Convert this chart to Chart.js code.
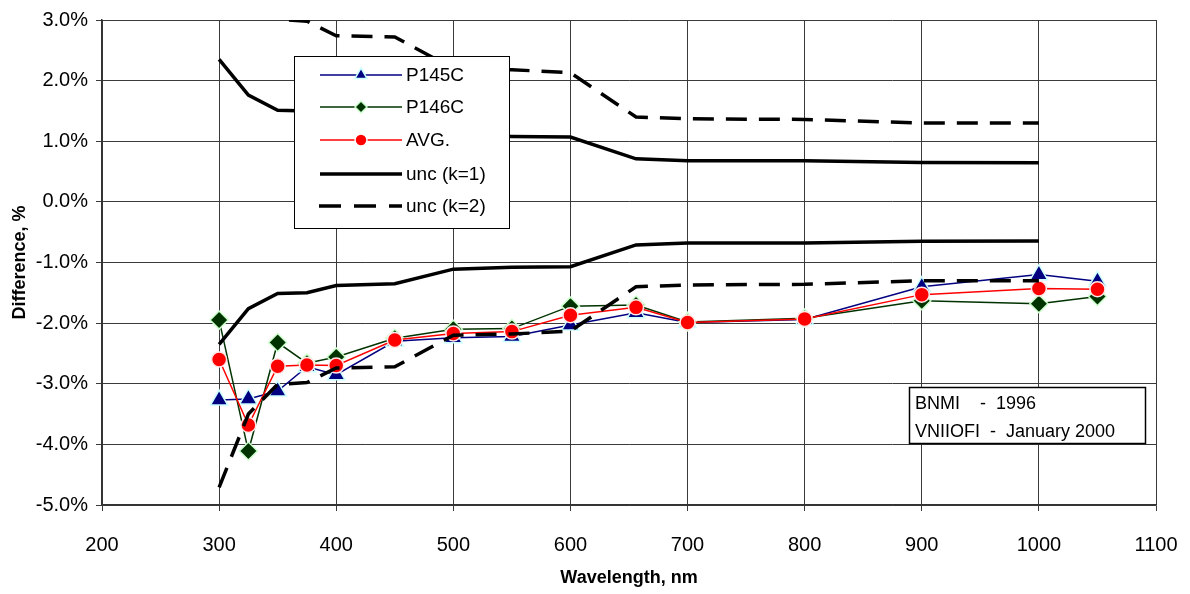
<!DOCTYPE html>
<html>
<head>
<meta charset="utf-8">
<script src="https://cdn.jsdelivr.net/npm/chart.js@4.4.1/dist/chart.umd.min.js"></script>
<style>
  html, body { margin: 0; padding: 0; background: #fff; }
  #wrap { width: 1190px; height: 594px; }
</style>
</head>
<body>
<div id="wrap"><canvas id="diffChart" width="1190" height="594"></canvas></div>
<script>
// wavelengths in nm, differences in %
var wavelengths = [300, 325, 350, 375, 400, 450, 500, 550, 600, 656, 700, 800, 900, 1000, 1050];
var p145c = [-3.27, -3.25, -3.12, -2.72, -2.85, -2.30, -2.24, -2.22, -2.03, -1.83, -1.99, -1.94, -1.40, -1.20, -1.31];
var p146c = [-1.95, -4.11, -2.32, -2.66, -2.56, -2.25, -2.10, -2.09, -1.72, -1.70, -1.98, -1.92, -1.63, -1.68, -1.56];
var avg   = [-2.60, -3.68, -2.71, -2.69, -2.70, -2.28, -2.17, -2.14, -1.87, -1.74, -1.99, -1.93, -1.53, -1.43, -1.44];

// uncertainty bands (plotted as + and -)
var uncWavelengths = [300, 325, 350, 375, 400, 450, 500, 550, 600, 656, 700, 800, 900, 1000];
var uncK1 = [2.35, 1.76, 1.51, 1.50, 1.38, 1.35, 1.11, 1.08, 1.07, 0.71, 0.68, 0.68, 0.65, 0.645];
var uncK2 = [4.71, 3.50, 3.01, 2.98, 2.74, 2.72, 2.20, 2.18, 2.13, 1.40, 1.37, 1.36, 1.30, 1.30];

var xTicks = [200, 300, 400, 500, 600, 700, 800, 900, 1000, 1100];
var yTicks = [-5, -4, -3, -2, -1, 0, 1, 2, 3];

var noteLines = ["BNMI    -  1996", "VNIIOFI  -  January 2000"];

var FONT = "'Liberation Sans', Arial, sans-serif";

function pairs(xs, ys, sign) {
    var out = [];
    for (var i = 0; i < xs.length; i++) {
        out.push({ x: xs[i], y: ys[i] * (sign || 1) });
    }
    return out;
}

function drawMarker(ctx, style, x, y, r, fill, stroke) {
    ctx.save();
    ctx.beginPath();
    if (style == 'triangle') {
        ctx.moveTo(x, y - r);
        ctx.lineTo(x + r * 0.87, y + r * 0.5);
        ctx.lineTo(x - r * 0.87, y + r * 0.5);
        ctx.closePath();
    } else if (style == 'rectRot') {
        ctx.moveTo(x, y - r);
        ctx.lineTo(x + r, y);
        ctx.lineTo(x, y + r);
        ctx.lineTo(x - r, y);
        ctx.closePath();
    } else {
        ctx.arc(x, y, r, 0, Math.PI * 2);
    }
    ctx.fillStyle = fill;
    ctx.fill();
    ctx.lineWidth = 1.5;
    ctx.strokeStyle = stroke;
    ctx.stroke();
    ctx.restore();
}

var legendItems = [
    { text: "P145C", color: "#000080", width: 1.5, dash: [], marker: 'triangle', r: 7, fill: "#000080", stroke: "#ccffff" },
    { text: "P146C", color: "#003300", width: 1.5, dash: [], marker: 'rectRot', r: 6, fill: "#003300", stroke: "#ccffcc" },
    { text: "AVG.", color: "#ff0000", width: 1.5, dash: [], marker: 'circle', r: 6, fill: "#ff0000", stroke: "#ffffff" },
    { text: "unc (k=1)", color: "#000000", width: 3.5, dash: [], marker: null },
    { text: "unc (k=2)", color: "#000000", width: 3.5, dash: [22, 13], marker: null }
];

var boxesPlugin = {
    id: 'boxes',
    afterDraw: function(chart) {
        var ctx = chart.ctx;
        // legend box
        ctx.save();
        ctx.fillStyle = "#fff";
        ctx.fillRect(294, 56, 215, 172);
        ctx.strokeStyle = "#000";
        ctx.lineWidth = 1;
        ctx.strokeRect(294.5, 56.5, 215, 172);
        var rowY = [75, 107, 140, 174, 206];
        ctx.font = "19px " + FONT;
        ctx.textBaseline = "middle";
        ctx.fillStyle = "#000";
        for (var i = 0; i < legendItems.length; i++) {
            var it = legendItems[i];
            ctx.beginPath();
            ctx.setLineDash(it.dash);
            ctx.lineWidth = it.width;
            ctx.strokeStyle = it.color;
            ctx.moveTo(it.dash.length ? 319 : 320, rowY[i]);
            ctx.lineTo(402, rowY[i]);
            ctx.stroke();
            ctx.setLineDash([]);
            if (it.marker) {
                drawMarker(ctx, it.marker, 361, rowY[i], it.r, it.fill, it.stroke);
            }
            ctx.fillStyle = "#000";
            ctx.fillText(it.text, 406, rowY[i] + 1);
        }
        // note box
        ctx.fillStyle = "#fff";
        ctx.fillRect(909, 387, 236, 56);
        ctx.lineWidth = 1.5;
        ctx.strokeStyle = "#000";
        ctx.strokeRect(909.5, 387.5, 236, 56);
        ctx.fillStyle = "#000";
        ctx.font = "18px " + FONT;
        ctx.fillText(noteLines[0], 915, 404);
        ctx.fillText(noteLines[1], 915, 432);
        ctx.restore();
    }
};

var ctx = document.getElementById('diffChart').getContext('2d');

var diffChart = new Chart(ctx, {
    type: 'line',
    data: {
        datasets: [
            {
                label: "unc (k=1)",
                data: pairs(uncWavelengths, uncK1, 1),
                borderColor: "#000",
                borderWidth: 3.5,
                pointRadius: 0,
                fill: false,
                order: 0
            },
            {
                label: "unc (k=1) low",
                data: pairs(uncWavelengths, uncK1, -1),
                borderColor: "#000",
                borderWidth: 3.5,
                pointRadius: 0,
                fill: false,
                order: 0
            },
            {
                label: "unc (k=2)",
                data: pairs(uncWavelengths, uncK2, 1),
                borderColor: "#000",
                borderWidth: 3.5,
                borderDash: [21, 12],
                pointRadius: 0,
                fill: false,
                order: 0
            },
            {
                label: "unc (k=2) low",
                data: pairs(uncWavelengths, uncK2, -1),
                borderColor: "#000",
                borderWidth: 3.5,
                borderDash: [21, 12],
                pointRadius: 0,
                fill: false,
                order: 0
            },
            {
                label: "AVG.",
                data: pairs(wavelengths, avg),
                borderColor: "#ff0000",
                borderWidth: 1.5,
                pointStyle: 'circle',
                pointRadius: 7.5,
                pointBackgroundColor: "#ff0000",
                pointBorderColor: "#ffe8e8",
                pointBorderWidth: 1.5,
                fill: false,
                order: 1
            },
            {
                label: "P146C",
                data: pairs(wavelengths, p146c),
                borderColor: "#003300",
                borderWidth: 1.5,
                pointStyle: 'rectRot',
                pointRadius: 9,
                pointBackgroundColor: "#003300",
                pointBorderColor: "#ccffcc",
                pointBorderWidth: 1.5,
                fill: false,
                order: 2
            },
            {
                label: "P145C",
                data: pairs(wavelengths, p145c),
                borderColor: "#000080",
                borderWidth: 1.5,
                pointStyle: 'triangle',
                pointRadius: 10,
                pointBackgroundColor: "#000080",
                pointBorderColor: "#ccffff",
                pointBorderWidth: 1.5,
                fill: false,
                order: 3
            }
        ]
    },
    options: {
        responsive: false,
        animation: false,
        layout: { padding: { left: 0, right: 34, top: 20, bottom: 0 } },
        plugins: {
            legend: { display: false },
            tooltip: { enabled: false }
        },
        scales: {
            x: {
                type: 'linear',
                min: xTicks[0],
                max: xTicks[xTicks.length - 1],
                afterBuildTicks: function(scale) {
                    scale.ticks = xTicks.map(function(v) { return { value: v }; });
                },
                afterFit: function(scale) {
                    scale.height = 89;
                    scale.paddingLeft = 0;
                    scale.paddingRight = 0;
                },
                ticks: {
                    color: "#000",
                    font: { family: FONT, size: 20 },
                    padding: 22,
                    maxRotation: 0,
                    callback: function(v) { return String(v); }
                },
                grid: { color: "#3a3a3a", lineWidth: 1, tickLength: 6 },
                border: { color: "#333", width: 1.5 },
                title: {
                    display: true,
                    text: "Wavelength, nm",
                    color: "#000",
                    font: { family: FONT, size: 18, weight: 'bold' },
                    padding: { top: 0, bottom: 5 }
                }
            },
            y: {
                min: yTicks[0],
                max: yTicks[yTicks.length - 1],
                afterBuildTicks: function(scale) {
                    scale.ticks = yTicks.map(function(v) { return { value: v }; });
                },
                afterFit: function(scale) {
                    scale.width = 102;
                    scale.paddingTop = 0;
                    scale.paddingBottom = 0;
                },
                ticks: {
                    color: "#000",
                    font: { family: FONT, size: 20 },
                    padding: 8,
                    callback: function(v) { return v.toFixed(1) + "%"; }
                },
                grid: { color: "#3a3a3a", lineWidth: 1, tickLength: 6 },
                border: { color: "#333", width: 1.5 },
                title: {
                    display: true,
                    text: "Difference, %",
                    color: "#000",
                    font: { family: FONT, size: 18, weight: 'bold' },
                    padding: { top: 9, bottom: 0 }
                }
            }
        }
    },
    plugins: [boxesPlugin]
});
</script>
</body>
</html>
